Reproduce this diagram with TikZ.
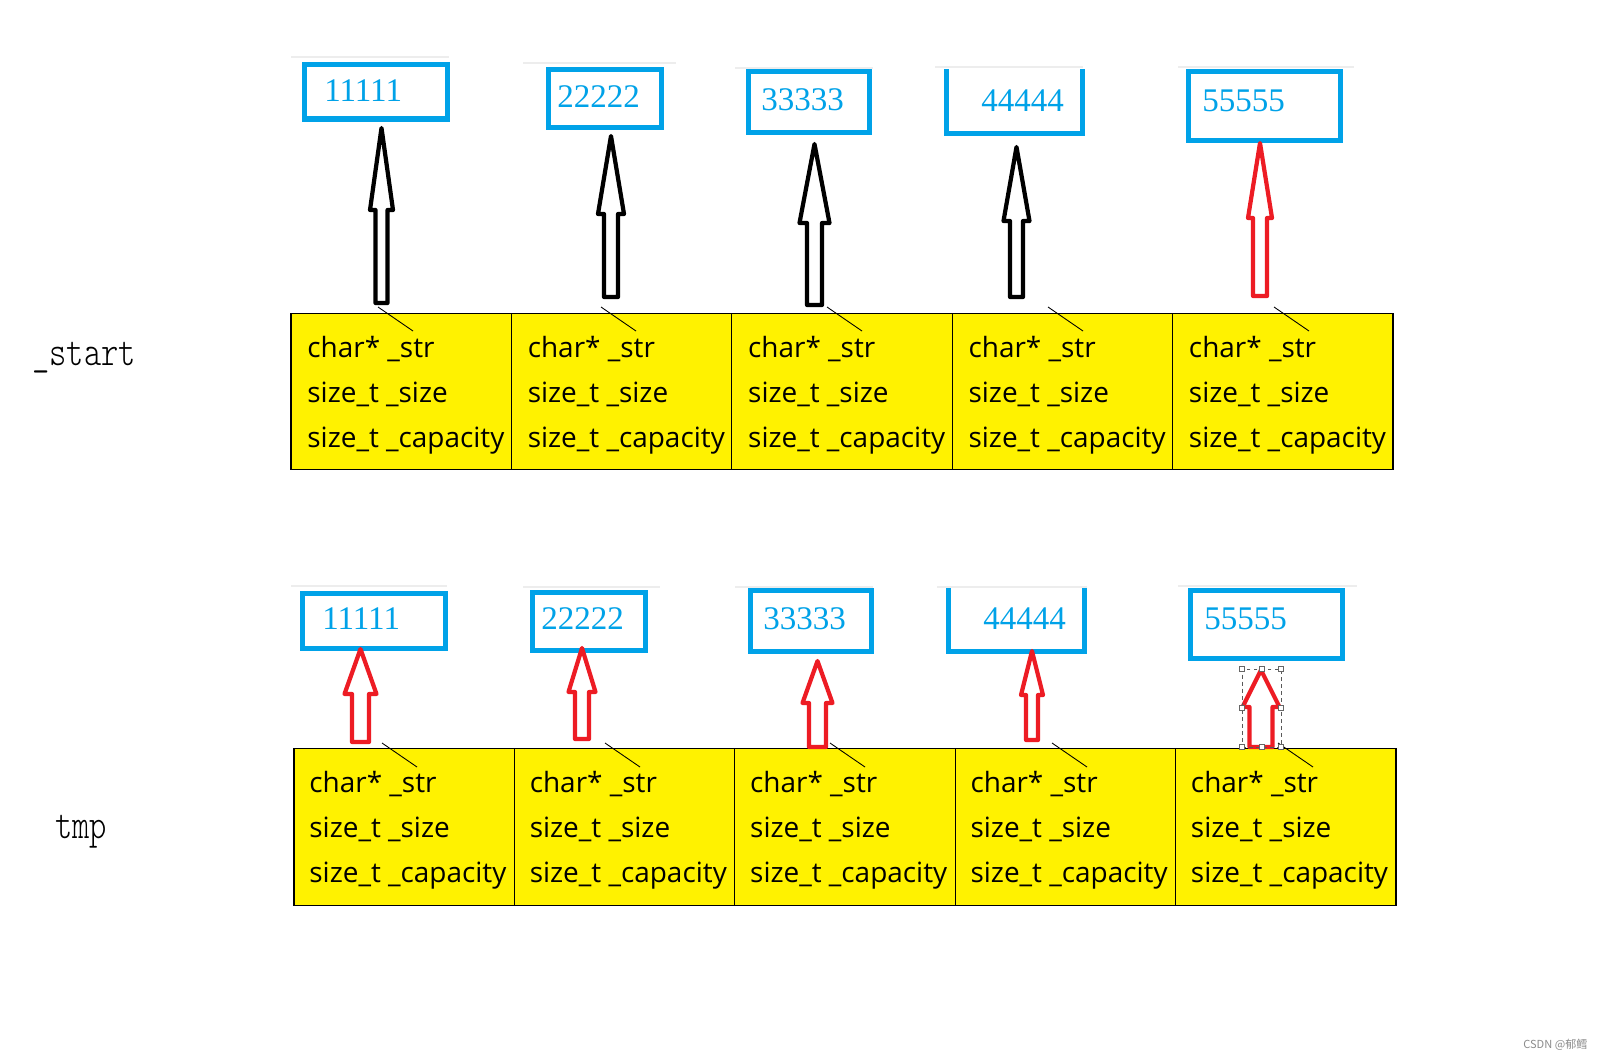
\documentclass[tikz,border=0pt]{standalone}
\usepackage{fontspec}
\setmainfont{Open Sans}
\newfontfamily\digitfont{Liberation Serif}
\newfontfamily\labelfont[FakeStretch=0.78]{lmmonolt10-regular.otf}
\newfontfamily\cjkfont{Noto Sans CJK SC}
\usetikzlibrary{calc}
\definecolor{pblue}{HTML}{00A2E8}
\definecolor{pyellow}{HTML}{FFF200}
\definecolor{pred}{HTML}{ED1C24}
\tikzset{
 cell/.style={draw=black, line width=0.7pt, fill=pyellow, minimum width=4.408cm, minimum height=3.13cm, inner sep=0pt, outer sep=0pt},
 field/.style={anchor=base west, inner sep=0pt, font=\fontsize{15.9}{18}\selectfont},
 bluebox/.style={draw=pblue, line width=2.85pt, inner sep=0pt, outer sep=0pt},
 openbox/.style={inner sep=0pt, outer sep=0pt},
 blueline/.style={draw=pblue, line width=2.85pt},
 digits/.style={anchor=west, inner sep=0pt, text=pblue, font=\digitfont\fontsize{18.8}{20}\selectfont},
 varlabel/.style={anchor=base west, inner sep=0pt, font=\labelfont\fontsize{24}{26}\selectfont},
 tick/.style={line width=0.5pt},
 faint/.style={draw=black!7, line width=1.2pt},
 handle/.style={draw=black!60, fill=white, line width=0.4pt, minimum size=0.1cm, inner sep=0pt},
 selbox/.style={draw=black!65, line width=0.5pt, dash pattern=on 2.2pt off 1.8pt},
 wmark/.style={anchor=west, inner sep=0pt, text=black!45, font=\cjkfont\fontsize{6.3}{7}\selectfont},
}
% color, cx, tip, base, bottom, half head, half shaft
\newcommand\blockarrow[7]{%
 \draw[#1, line width=2.4pt, line join=round] (#2-#7,#5) -- (#2-#7,#4) -- (#2-#6,#4) -- (#2,#3) -- (#2+#6,#4) -- (#2+#7,#4) -- (#2+#7,#5) -- cycle;
}
\begin{document}
\begin{tikzpicture}[x=0.02cm, y=-0.02cm]
\useasboundingbox (0,0) rectangle (1606,1062);
\fill[white] (0,0) rectangle (1606,1062);

% faint screenshot lines
\draw[faint] (291,57) -- (449,57);
\draw[faint] (523,63) -- (676,63);
\draw[faint] (735,68) -- (873,68);
\draw[faint] (935,67) -- (1083,67);
\draw[faint] (1178,67) -- (1354,67);
\draw[faint] (291,586) -- (447,586);
\draw[faint] (523,587) -- (660,587);
\draw[faint] (735,587) -- (873,587);
\draw[faint] (937,587) -- (1087,587);
\draw[faint] (1178,586) -- (1357,586);

% top blue boxes
\node[bluebox, minimum width=2.87cm, minimum height=1.09cm] (ta) at (376.25,91.75) {};
\node[bluebox, minimum width=2.26cm, minimum height=1.16cm] (tb) at (605,98.5) {};
\node[bluebox, minimum width=2.42cm, minimum height=1.22cm] (tc) at (809,102) {};
\node[openbox, minimum width=2.72cm, minimum height=1.29cm] (td) at (1014.5,101.25) {};
\draw[blueline] (td.north west) -- (td.south west) -- (td.south east) -- (td.north east);
\node[bluebox, minimum width=3.04cm, minimum height=1.38cm] (te) at (1264.5,106) {};
\node[digits] (tan) at (324,90.5) {11111};
\node[digits] (tbn) at (557,96.5) {22222};
\node[digits] (tcn) at (761,100) {33333};
\node[digits] (tdn) at (981,100.5) {44444};
\node[digits] (ten) at (1202,100.5) {55555};

% bottom blue boxes
\node[bluebox, minimum width=2.86cm, minimum height=1.10cm] (ba) at (374,621) {};
\node[bluebox, minimum width=2.26cm, minimum height=1.16cm] (bb) at (589,621.5) {};
\node[bluebox, minimum width=2.42cm, minimum height=1.22cm] (bc) at (811,621) {};
\node[openbox, minimum width=2.72cm, minimum height=1.27cm] (bd) at (1016.5,619.75) {};
\draw[blueline] (bd.north west) -- (bd.south west) -- (bd.south east) -- (bd.north east);
\node[bluebox, minimum width=3.04cm, minimum height=1.36cm] (be) at (1266.5,624.5) {};
\node[digits] (ban) at (322,619) {11111};
\node[digits] (bbn) at (541,619) {22222};
\node[digits] (bcn) at (763,619) {33333};
\node[digits] (bdn) at (983,619) {44444};
\node[digits] (ben) at (1204,619) {55555};

% yellow cells, top row
\foreach \i/\cx in {1/401.2, 2/621.6, 3/842.0, 4/1062.4, 5/1282.8} {
  \node[cell] (s\i) at (\cx,391.5) {};
  \node[field] (s\i-a) at ($(s\i.north west)+(16,44)$) {char* \_str};
  \node[field] (s\i-b) at ($(s\i.north west)+(16,89)$) {size\_t \_size};
  \node[field] (s\i-c) at ($(s\i.north west)+(16,134)$) {size\_t \_capacity};
}
% yellow cells, bottom row
\foreach \i/\cx in {1/404.2, 2/624.6, 3/845.0, 4/1065.4, 5/1285.8} {
  \node[cell] (m\i) at (\cx,827) {};
  \node[field] (m\i-a) at ($(m\i.north west)+(15,44)$) {char* \_str};
  \node[field] (m\i-b) at ($(m\i.north west)+(15,89)$) {size\_t \_size};
  \node[field] (m\i-c) at ($(m\i.north west)+(15,134)$) {size\_t \_capacity};
}

% thin ticks
\draw[tick] (378,307) -- ++(35,24);
\draw[tick] (601,307) -- ++(35,24);
\draw[tick] (827,307) -- ++(35,24);
\draw[tick] (1048,307) -- ++(35,24);
\draw[tick] (1274,307) -- ++(35,24);
\draw[tick] (382,743) -- ++(35,24);
\draw[tick] (605,743) -- ++(35,24);
\draw[tick] (830,743) -- ++(35,24);
\draw[tick] (1052,743) -- ++(35,24);
\draw[tick] (1278,743) -- ++(35,24);

% block arrows, top row
\blockarrow{black}{381.5}{128}{210}{303}{11.5}{6}
\blockarrow{black}{611}{136}{214}{297}{13}{7}
\blockarrow{black}{814.5}{144}{223}{305}{15}{7.5}
\blockarrow{black}{1016.5}{147}{221}{297}{13}{6.5}
\blockarrow{pred}{1260}{143}{218}{296}{12}{7}
% block arrows, bottom row
\blockarrow{pred}{360.5}{649}{694}{742}{16}{8.5}
\blockarrow{pred}{582}{648}{692}{739}{13.5}{7}
\blockarrow{pred}{817.5}{661}{703}{747}{15}{8.5}
\blockarrow{pred}{1032}{651}{695}{740}{11}{6}
\blockarrow{pred}{1261}{670}{707}{747}{18.5}{11.5}

% selection frame
\node[selbox, minimum width=0.78cm, minimum height=1.56cm, inner sep=0pt] (sel) at (1261.5,708) {};
\foreach \hx/\hy [count=\k] in {1242/669, 1261.5/669, 1281/669, 1242/708, 1281/708, 1242/747, 1261.5/747, 1281/747}
  \node[handle] (h\k) at (\hx,\hy) {};

% variable labels
\node[varlabel] (lstart) at (32,365) {\_start};
\node[varlabel] (ltmp) at (55,838) {tmp};

% watermark
\node[wmark] (wm) at (1523,1045) {CSDN @郁鳕};
\end{tikzpicture}
\end{document}
